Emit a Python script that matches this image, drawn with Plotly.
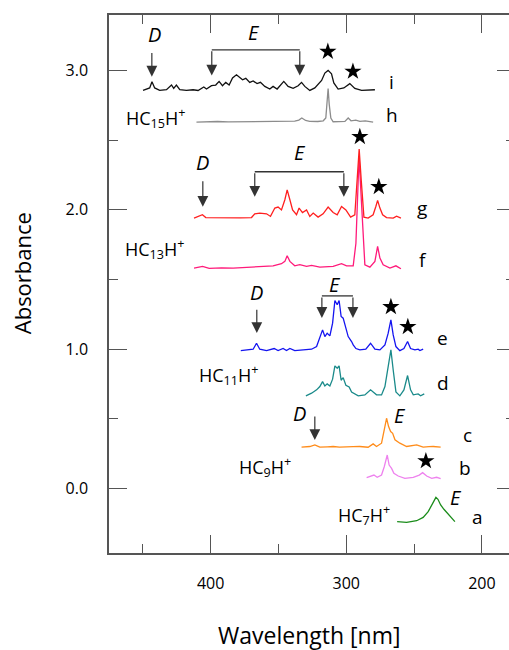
import plotly.graph_objects as go

# ---------------- data (wavelength nm, absorbance with offsets) ----------------
i_nm = [449.9, 445.0, 443.3, 441.3, 437.6, 432.6, 428.9, 427.3, 425.3, 422.8, 417.9, 413.0, 409.3,
        405.1, 403.1, 399.4, 396.3, 393.8, 391.3, 388.9, 386.4, 383.9, 381.0, 379.1, 376.5, 374.1,
        371.2, 368.7, 365.8, 363.3, 360.1, 356.4, 354.0, 351.0, 346.1, 342.9, 339.2, 335.5, 333.0,
        330.6, 326.9, 323.2, 318.2, 315.8, 313.4, 310.9, 309.2, 306.0, 301.8, 297.4, 293.7, 288.7,
        282.6, 278.9]
i_abs = [2.858, 2.876, 2.921, 2.876, 2.858, 2.863, 2.897, 2.873, 2.897, 2.863, 2.858, 2.863, 2.858,
         2.883, 2.868, 2.892, 2.897, 2.923, 2.892, 2.916, 2.897, 2.948, 2.971, 2.955, 2.935, 2.945,
         2.916, 2.926, 2.907, 2.916, 2.887, 2.868, 2.887, 2.868, 2.923, 2.887, 2.873, 2.892, 2.916,
         2.887, 2.858, 2.876, 2.930, 2.983, 3.002, 2.978, 2.912, 2.868, 2.876, 2.907, 2.873, 2.858,
         2.863, 2.863]

h_nm = [410.5, 402.0, 395.0, 387.0, 380.0, 372.0, 365.0, 357.0, 350.0, 343.0, 338.0, 335.0, 332.8,
        330.0, 327.0, 321.0, 317.0, 315.1, 314.2, 313.4, 312.6, 311.4, 309.7, 305.0, 301.0, 298.6,
        296.5, 293.0, 290.0, 286.0, 280.2]
h_abs = [2.631, 2.634, 2.635, 2.632, 2.632, 2.636, 2.636, 2.633, 2.634, 2.636, 2.637, 2.645, 2.660,
         2.642, 2.636, 2.635, 2.640, 2.660, 2.760, 2.872, 2.760, 2.660, 2.633, 2.636, 2.636, 2.660,
         2.640, 2.645, 2.636, 2.640, 2.631]

g_nm = [412.3, 406.1, 403.6, 395.0, 385.0, 378.0, 369.9, 367.5, 363.8, 358.8, 355.9, 352.7, 350.3,
        347.8, 345.3, 343.6, 341.6, 339.6, 336.7, 334.8, 332.3, 329.3, 326.9, 324.4, 320.8, 317.1,
        313.4, 309.7, 306.7, 303.5, 300.3, 296.8, 293.7, 292.0, 290.5, 289.0, 287.0, 283.9, 280.2,
        278.2, 276.9, 275.2, 273.2, 270.3, 265.4, 262.9, 259.7]
g_abs = [1.941, 1.965, 1.945, 1.943, 1.946, 1.942, 1.945, 1.972, 1.977, 1.972, 1.953, 2.013, 2.020,
         2.000, 2.073, 2.144, 2.073, 2.000, 1.965, 2.013, 1.981, 2.000, 1.953, 1.977, 1.948, 1.972,
         2.020, 1.981, 1.965, 2.024, 2.000, 1.948, 1.965, 2.216, 2.437, 2.216, 1.948, 1.941, 1.965,
         2.024, 2.068, 2.013, 1.965, 1.945, 1.941, 1.955, 1.941]

f_nm = [412.3, 406.0, 401.1, 392.0, 383.5, 376.0, 368.7, 361.0, 354.0, 347.8, 345.3, 343.6, 341.6,
        338.0, 334.3, 329.3, 325.6, 319.5, 314.0, 309.7, 303.5, 299.8, 294.9, 292.9, 291.2, 290.5,
        289.7, 287.5, 286.3, 282.6, 278.9, 276.9, 275.2, 272.8, 267.8, 263.4, 259.7]
f_abs = [1.582, 1.594, 1.580, 1.584, 1.582, 1.586, 1.589, 1.592, 1.598, 1.613, 1.630, 1.670, 1.630,
         1.598, 1.606, 1.594, 1.601, 1.589, 1.592, 1.594, 1.613, 1.598, 1.598, 1.760, 2.216, 2.380,
         2.216, 1.760, 1.606, 1.589, 1.630, 1.737, 1.654, 1.606, 1.582, 1.598, 1.577]

e_nm = [377.8, 368.7, 366.2, 363.8, 358.8, 353.2, 350.3, 346.6, 344.1, 341.6, 338.0, 331.8, 325.6,
        321.9, 319.5, 317.5, 315.8, 314.1, 312.1, 310.1, 308.4, 306.7, 305.3, 303.8, 302.3, 300.8,
        298.6, 296.1, 294.9, 292.9, 290.0, 285.6, 282.1, 278.9, 275.2, 271.5, 269.1, 267.1, 265.4,
        263.4, 260.5, 257.5, 254.8, 252.6, 249.4, 247.0, 245.7, 243.3]
e_abs = [0.989, 0.999, 1.042, 0.999, 0.989, 1.004, 0.989, 1.004, 0.989, 1.004, 0.989, 0.994, 0.999,
         1.018, 1.078, 1.138, 1.090, 1.114, 1.095, 1.186, 1.349, 1.318, 1.349, 1.234, 1.222, 1.162,
         1.090, 1.054, 1.030, 1.004, 0.994, 0.999, 1.042, 0.999, 0.994, 1.030, 1.114, 1.210, 1.102,
         1.018, 0.989, 1.004, 1.054, 1.004, 0.994, 0.999, 0.989, 0.999]

d_nm = [329.8, 325.6, 321.9, 319.5, 317.5, 315.8, 314.1, 312.1, 310.1, 308.4, 306.7, 305.3, 303.8,
        302.3, 300.3, 297.9, 296.1, 293.7, 291.2, 286.3, 282.1, 277.7, 274.0, 271.5, 269.8, 267.1,
        265.4, 263.4, 260.5, 257.5, 254.8, 252.6, 250.6, 247.0, 245.2, 242.5]
d_abs = [0.664, 0.683, 0.707, 0.731, 0.766, 0.735, 0.750, 0.735, 0.784, 0.879, 0.862, 0.879, 0.776,
         0.795, 0.740, 0.728, 0.692, 0.680, 0.664, 0.671, 0.707, 0.671, 0.671, 0.731, 0.827, 0.994,
         0.850, 0.692, 0.664, 0.707, 0.810, 0.707, 0.671, 0.678, 0.664, 0.678]

c_nm = [333.0, 326.9, 323.2, 319.5, 314.0, 309.7, 305.0, 299.8, 295.0, 290.0, 283.9, 280.2, 277.7,
        274.0, 272.3, 270.3, 268.8, 267.3, 265.8, 264.1, 260.5, 255.5, 248.1, 243.3, 239.0, 235.9,
        230.4]
c_abs = [0.295, 0.300, 0.312, 0.295, 0.298, 0.300, 0.296, 0.295, 0.299, 0.300, 0.295, 0.319, 0.300,
         0.324, 0.396, 0.503, 0.443, 0.407, 0.395, 0.348, 0.324, 0.300, 0.312, 0.295, 0.299, 0.300,
         0.295]

b_nm = [285.0, 282.1, 279.6, 277.2, 274.0, 272.0, 269.8, 268.4, 266.6, 264.9, 261.7, 256.8, 250.6,
        246.2, 243.7, 240.7, 237.0, 233.4, 230.4]
b_abs = [0.076, 0.088, 0.095, 0.079, 0.095, 0.155, 0.239, 0.167, 0.143, 0.107, 0.088, 0.071, 0.079,
         0.095, 0.112, 0.088, 0.071, 0.079, 0.069]

a_nm = [262.5, 255.5, 248.1, 243.3, 239.6, 236.3, 233.9, 232.4, 230.4, 228.0, 225.5, 223.0, 219.9]
a_abs = [-0.240, -0.245, -0.233, -0.209, -0.168, -0.108, -0.065, -0.079, -0.120, -0.151, -0.180,
         -0.204, -0.240]

x_ticks = [400, 300, 200]
y_ticks = [0.0, 1.0, 2.0, 3.0]

FONT = "Open Sans"

traces = [
    (a_nm, a_abs, "#1a8c1a", "a"),
    (b_nm, b_abs, "#ee82ee", "b"),
    (c_nm, c_abs, "#ff8c1a", "c"),
    (d_nm, d_abs, "#1a8a8a", "d"),
    (e_nm, e_abs, "#1414f0", "e"),
    (f_nm, f_abs, "#ff1a7a", "f"),
    (g_nm, g_abs, "#ff1f1f", "g"),
    (h_nm, h_abs, "#8c8c8c", "h"),
    (i_nm, i_abs, "#111111", "i"),
]

fig = go.Figure()
for xs, ys, col, name in traces:
    fig.add_trace(go.Scatter(x=xs, y=ys, mode="lines", line=dict(color=col, width=1.3),
                             name=name, showlegend=False, hoverinfo="skip"))

# stars
star_x = [313.6, 295.1, 290.0, 276.0, 267.1, 254.6, 241.3]
star_y = [3.137, 2.994, 2.525, 2.166, 1.303, 1.160, 0.196]
fig.add_trace(go.Scatter(x=star_x, y=star_y, mode="markers",
                         marker=dict(symbol="star", size=13, color="black"),
                         showlegend=False, hoverinfo="skip"))

# helper trace for the right-hand tick axis
fig.add_trace(go.Scatter(x=[None], y=[None], yaxis="y2", showlegend=False, hoverinfo="skip"))

ann = []
# curve letters
letters = [("i", 266.4, 2.921), ("h", 266.4, 2.684), ("g", 244.2, 2.015), ("f", 243.5, 1.641),
           ("e", 228.7, 1.081), ("d", 228.7, 0.757), ("c", 210.3, 0.384), ("b", 212.5, 0.146),
           ("a", 202.9, -0.207)]
for t, x, y in letters:
    ann.append(dict(x=x, y=y, text=t, showarrow=False, font=dict(size=19, color="black", family=FONT)))

# molecule labels
mols = [("HC<sub>15</sub>H<sup>+</sup>", 440.5, 2.684),
        ("HC<sub>13</sub>H<sup>+</sup>", 440.8, 1.741),
        ("HC<sub>11</sub>H<sup>+</sup>", 386.7, 0.832),
        ("HC<sub>9</sub>H<sup>+</sup>", 360.1, 0.175),
        ("HC<sub>7</sub>H<sup>+</sup>", 286.7, -0.168)]
for t, x, y in mols:
    ann.append(dict(x=x, y=y, text=t, showarrow=False, yshift=-3,
                    font=dict(size=18, color="black", family=FONT)))

# italic D / E labels
de = [("D", 441.3, 3.259), ("E", 368.2, 3.273),
      ("D", 405.8, 2.339), ("E", 334.3, 2.411),
      ("D", 366.0, 1.404), ("E", 308.4, 1.462),
      ("D", 334.3, 0.534), ("E", 260.5, 0.520),
      ("E", 219.1, -0.063)]
for t, x, y in de:
    ann.append(dict(x=x, y=y, text="<i>%s</i>" % t, showarrow=False,
                    font=dict(size=20, color="black", family=FONT)))

ARROW_COL = "#333333"
def arrow(x, y0, y1):
    ann.append(dict(x=x, y=y1, ax=x, ay=y0, xref="x", yref="y", axref="x", ayref="y",
                    text="", showarrow=True, arrowhead=2, arrowsize=1.8, arrowwidth=1.2,
                    arrowcolor=ARROW_COL, standoff=0))

# D arrows
arrow(443.4, 3.137, 2.957)
arrow(405.8, 2.216, 2.022)
arrow(366.0, 1.294, 1.116)
arrow(323.2, 0.527, 0.347)

# E brackets
brackets = [(399.2, 334.3, 3.150, 2.965),
            (367.5, 301.8, 2.274, 2.094),
            (318.0, 295.1, 1.382, 1.224)]
shapes = []
for x1, x2, yb, yt in brackets:
    shapes.append(dict(type="line", x0=x1, x1=x2, y0=yb, y1=yb, xref="x", yref="y",
                       line=dict(color=ARROW_COL, width=1.3)))
    arrow(x1, yb, yt)
    arrow(x2, yb, yt)

# axis titles
ann.append(dict(xref="paper", yref="paper", x=0.5, y=-0.152, xanchor="center", yanchor="middle",
                text="Wavelength [nm]", showarrow=False,
                font=dict(size=23, color="black", family=FONT)))
ann.append(dict(xref="paper", yref="paper", x=-0.2175, y=0.52, xanchor="center", yanchor="middle",
                text="Absorbance", textangle=-90, showarrow=False,
                font=dict(size=22, color="black", family=FONT)))

AX = "#555555"
fig.update_layout(
    width=509, height=650,
    margin=dict(l=109, r=0, t=15, b=97),
    paper_bgcolor="white", plot_bgcolor="white",
    annotations=ann, shapes=shapes,
    font=dict(family=FONT, color="black"),
    xaxis=dict(range=[475, 180], tickvals=x_ticks, ticktext=[str(v) for v in x_ticks],
               ticks="inside", ticklen=18, tickwidth=1.3, tickcolor=AX,
               showline=True, linecolor=AX, linewidth=1.5, mirror="ticks",
               showgrid=False, zeroline=False, ticklabelstandoff=15,
               tickfont=dict(size=16, color="black", family=FONT),
               minor=dict(dtick=50, tick0=0, ticks="inside", ticklen=9, tickwidth=1.3,
                          tickcolor=AX, showgrid=False)),
    yaxis=dict(range=[-0.465, 3.40], tickvals=y_ticks, ticktext=["%.1f" % v for v in y_ticks],
               ticks="inside", ticklen=18, tickwidth=1.3, tickcolor=AX,
               showline=True, linecolor=AX, linewidth=1.5, mirror=False,
               showgrid=False, zeroline=False, ticklabelstandoff=16,
               tickfont=dict(size=16, color="black", family=FONT),
               minor=dict(dtick=0.5, tick0=0, ticks="inside", ticklen=9, tickwidth=1.3,
                          tickcolor=AX, showgrid=False)),
    yaxis2=dict(range=[-0.465, 3.40], overlaying="y", side="right", tickvals=y_ticks,
                showticklabels=False, ticks="inside", ticklen=12, tickwidth=1.3, tickcolor=AX,
                showline=False, showgrid=False, zeroline=False,
                minor=dict(dtick=0.5, tick0=0, ticks="inside", ticklen=3, tickwidth=1.3,
                           tickcolor=AX, showgrid=False)),
)

fig.write_html("out.html")
